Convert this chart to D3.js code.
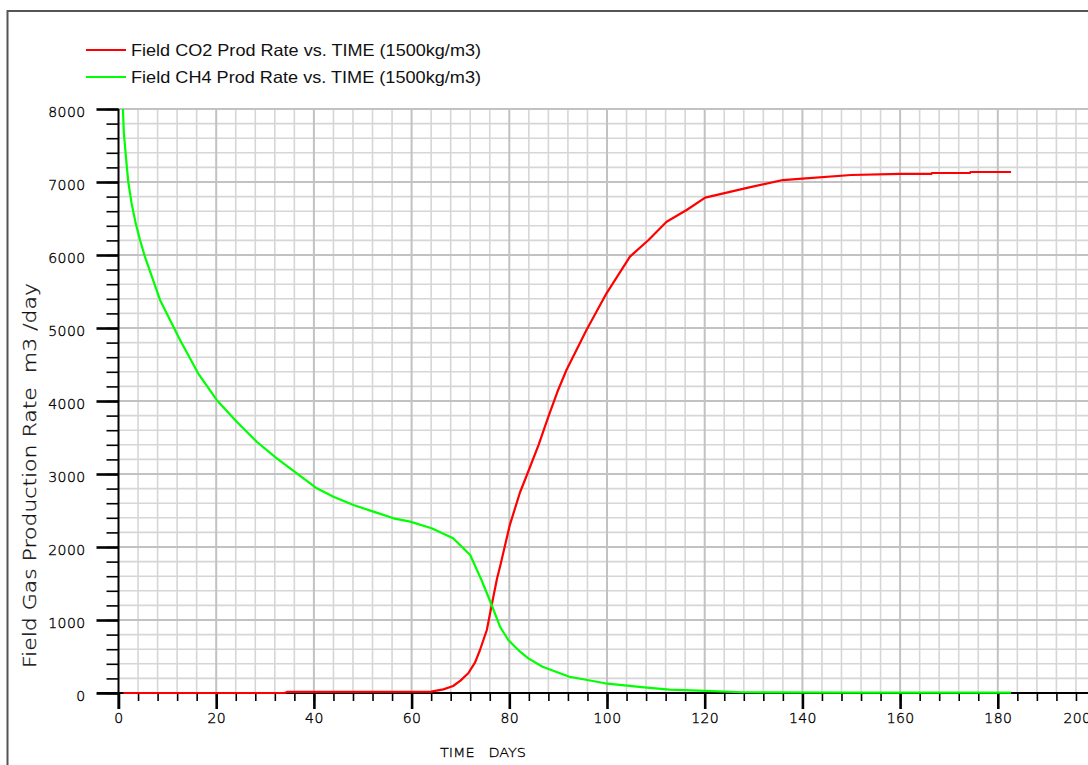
<!DOCTYPE html>
<html>
<head>
<meta charset="utf-8">
<script src="https://cdn.jsdelivr.net/npm/d3@7/dist/d3.min.js"></script>
<style>
  html, body { margin: 0; padding: 0; background: #fff; }
  svg { display: block; }
  text { white-space: pre; }
</style>
</head>
<body>
<svg id="chart" width="1088" height="765"></svg>
<script>
// ---- data ----
const co2Time = [1, 34, 34.5, 64, 66.5, 68.5, 70, 71.6, 73, 74, 75.4, 76.4, 77.5, 78.1, 80.1, 82.2, 83.6, 86, 88, 90, 91.7, 95.8, 99.9, 104.7, 108.5, 112.2, 116.3, 120.1, 128.9, 136, 140, 150, 160, 166.4, 166.5, 174.3, 174.4, 182.7];
const co2Rate = [0, 0, 15, 18, 50, 96, 170, 270, 420, 589, 863, 1205, 1571, 1730, 2300, 2750, 2986, 3400, 3785, 4151, 4425, 4973, 5475, 5977, 6205, 6456, 6616, 6785, 6922, 7027, 7045, 7096, 7110, 7110, 7123, 7123, 7137, 7137];

const ch4Time = [0.9, 1.1, 1.7, 2.0, 2.7, 3.5, 4.4, 5.4, 8.5, 12.6, 16.3, 20.1, 24.2, 28.3, 32.4, 36.5, 40.6, 44.0, 48.1, 52.2, 56.3, 59.7, 64.1, 68.5, 72.0, 74.3, 76.4, 78.1, 79.8, 82.2, 83.9, 86.8, 92.3, 99.6, 107.6, 112.8, 120.1, 127.7, 150, 182.7];
const ch4Rate = [8000, 7667, 7210, 7004, 6700, 6440, 6205, 5977, 5384, 4836, 4379, 4014, 3716, 3442, 3215, 3010, 2804, 2689, 2575, 2484, 2393, 2347, 2256, 2119, 1890, 1548, 1205, 908, 726, 566, 475, 360, 223, 133, 78, 45, 28, 10, 6, 5];

const xMajorTicks = [0, 20, 40, 60, 80, 100, 120, 140, 160, 180, 200];
const xMinorTicks = d3.range(0, 201, 4);
const yMajorTicks = [0, 1000, 2000, 3000, 4000, 5000, 6000, 7000, 8000];
const yMinorTicks = d3.range(0, 8001, 200);

const seriesNames = ["Field CO2 Prod Rate vs. TIME (1500kg/m3)", "Field CH4 Prod Rate vs. TIME (1500kg/m3)"];
const seriesColors = ["#ff0000", "#00ff00"];
const xTitle = "TIME   DAYS";
const yTitle = "Field Gas Production Rate  m3 /day";

// ---- layout ----
const W = 1088, H = 765;
const svg = d3.select("#chart");
const x = d3.scaleLinear().domain([0, 200]).range([118.5, 1095.5]);
const y = d3.scaleLinear().domain([0, 8000]).range([693, 109]);

// outer frame
svg.append("rect").attr("x", 7.5).attr("y", 11).attr("width", 1200).attr("height", 900)
  .attr("fill", "none").attr("stroke", "#555").attr("stroke-width", 2);

// grid
const grid = svg.append("g");
grid.selectAll("line.vminor").data(xMinorTicks.filter(d => d % 20 !== 0)).join("line")
  .attr("x1", d => x(d)).attr("x2", d => x(d)).attr("y1", y(8000)).attr("y2", y(0))
  .attr("stroke", "#d6d6d6").attr("stroke-width", 1.6);
grid.selectAll("line.hminor").data(yMinorTicks.filter(d => d % 1000 !== 0)).join("line")
  .attr("x1", x(0)).attr("x2", W).attr("y1", d => y(d)).attr("y2", d => y(d))
  .attr("stroke", "#d6d6d6").attr("stroke-width", 1.6);
grid.selectAll("line.vmajor").data(xMajorTicks.filter(d => d > 0)).join("line")
  .attr("x1", d => x(d)).attr("x2", d => x(d)).attr("y1", y(8000)).attr("y2", y(0))
  .attr("stroke", "#c2c2c2").attr("stroke-width", 2);
grid.selectAll("line.hmajor").data(yMajorTicks.filter(d => d > 0)).join("line")
  .attr("x1", x(0)).attr("x2", W).attr("y1", d => y(d)).attr("y2", d => y(d))
  .attr("stroke", "#c2c2c2").attr("stroke-width", 2);

// axes
const tickFont = "'DejaVu Sans', sans-serif";
function styleAxis(g, w) {
  g.select(".domain").remove();
  g.selectAll(".tick line").attr("stroke", "#000").attr("stroke-width", w);
  g.selectAll(".tick text").attr("fill", "#000").attr("stroke", "#000").attr("stroke-width", 0.35)
    .style("font-family", tickFont)
    .style("font-size", "14px").style("font-weight", "200").style("letter-spacing", "0.4px");
}
const yMinorAxis = svg.append("g").attr("transform", `translate(${x(0)},0)`)
  .call(d3.axisLeft(y).tickValues(yMinorTicks).tickSize(12).tickFormat(""));
styleAxis(yMinorAxis, 1.6);
const yMajorAxis = svg.append("g").attr("transform", `translate(${x(0)},0)`)
  .call(d3.axisLeft(y).tickValues(yMajorTicks).tickSize(22).tickPadding(11).tickFormat(d3.format("d")));
styleAxis(yMajorAxis, 2.6);
yMajorAxis.selectAll(".tick text").attr("dy", "0.55em");

const xMinorAxis = svg.append("g").attr("transform", `translate(0,${y(0)})`)
  .call(d3.axisBottom(x).tickValues(xMinorTicks).tickSize(8).tickFormat(""));
styleAxis(xMinorAxis, 1.6);
const xMajorAxis = svg.append("g").attr("transform", `translate(0,${y(0)})`)
  .call(d3.axisBottom(x).tickValues(xMajorTicks).tickSize(16).tickPadding(4).tickFormat(d3.format("d")));
styleAxis(xMajorAxis, 2.6);
// the last label is pushed inside the window, as in the reference
xMajorAxis.selectAll(".tick text").filter(d => d === 200)
  .attr("text-anchor", "start").attr("x", 1063 - x(200));

// axis lines
svg.append("line").attr("x1", 97).attr("x2", W).attr("y1", y(0)).attr("y2", y(0))
  .attr("stroke", "#000").attr("stroke-width", 2);
svg.append("line").attr("x1", x(0)).attr("x2", x(0)).attr("y1", y(8000)).attr("y2", 709)
  .attr("stroke", "#000").attr("stroke-width", 2);

// clip
svg.append("clipPath").attr("id", "plotclip").append("rect")
  .attr("x", x(0)).attr("y", y(8000) - 1).attr("width", W - x(0)).attr("height", y(0) - y(8000) + 2);

const line = d3.line().x(d => x(d[0])).y(d => y(d[1]));
const series = [d3.zip(co2Time, co2Rate), d3.zip(ch4Time, ch4Rate)];
svg.append("g").attr("clip-path", "url(#plotclip)")
  .selectAll("path").data(series).join("path")
  .attr("d", line).attr("fill", "none")
  .attr("stroke", (d, i) => seriesColors[i]).attr("stroke-width", 2.2)
  .attr("stroke-linejoin", "round");

// legend
const legend = svg.append("g");
seriesNames.forEach((name, i) => {
  const ly = 50 + i * 27;
  legend.append("line").attr("x1", 86).attr("x2", 126).attr("y1", ly).attr("y2", ly)
    .attr("stroke", seriesColors[i]).attr("stroke-width", 2);
  legend.append("text").attr("x", 131).attr("y", ly + 6)
    .attr("textLength", 350).attr("lengthAdjust", "spacingAndGlyphs")
    .style("font-family", "'Liberation Sans', Arial, sans-serif").style("font-size", "16.5px")
    .attr("fill", "#111").text(name);
});

// axis titles
svg.append("text").attr("x", 440).attr("y", 757)
  .attr("textLength", 86).attr("lengthAdjust", "spacingAndGlyphs")
  .style("font-family", tickFont).style("font-size", "13px").style("font-weight", "200")
  .attr("fill", "#000").attr("stroke", "#000").attr("stroke-width", 0.3).text(xTitle);
svg.append("text").attr("transform", "translate(36,668) rotate(-90)")
  .attr("textLength", 385).attr("lengthAdjust", "spacingAndGlyphs")
  .style("font-family", tickFont).style("font-size", "17px").style("font-weight", "200")
  .attr("fill", "#111").attr("stroke", "#111").attr("stroke-width", 0.3).text(yTitle);
</script>
</body>
</html>
